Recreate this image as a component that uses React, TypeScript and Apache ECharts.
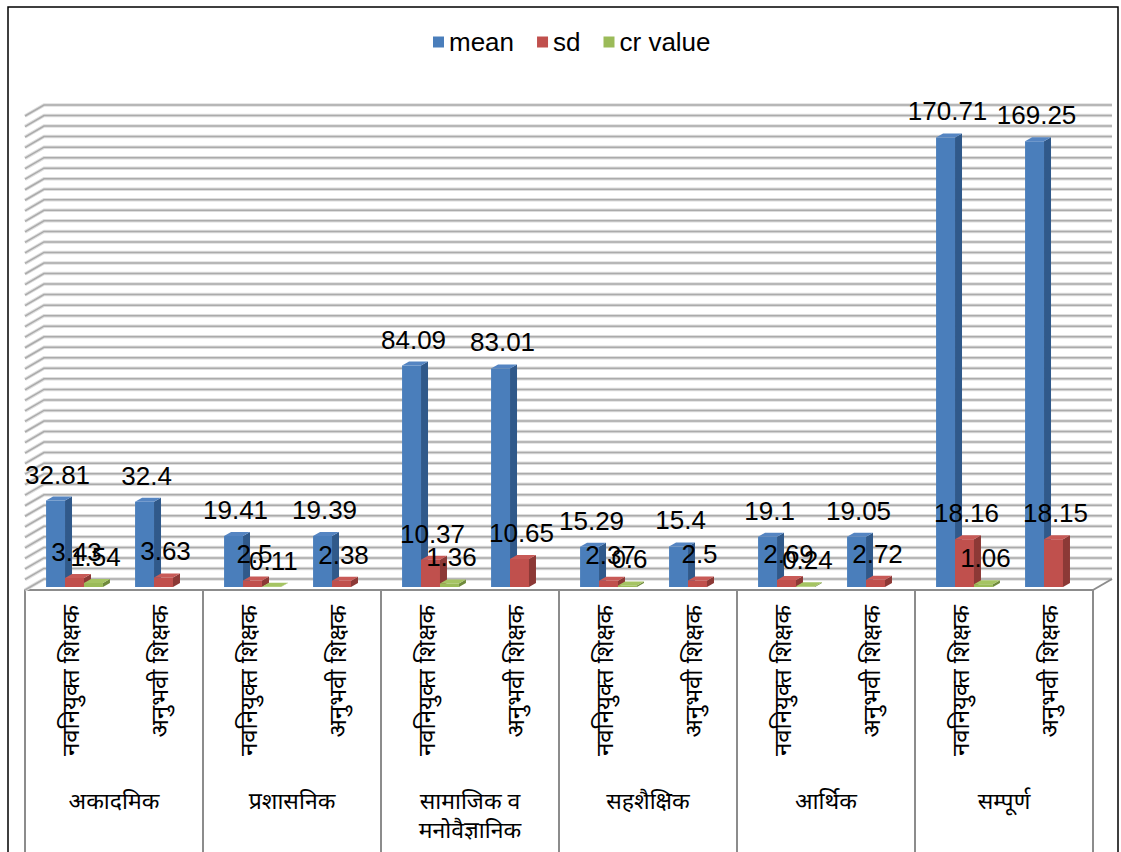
import React, { useEffect, useRef } from "react";
import * as echarts from "echarts";

const groups = ["अकादमिक", "प्रशासनिक", "सामाजिक व\nमनोवैज्ञानिक", "सहशैक्षिक", "आर्थिक", "सम्पूर्ण"];
const teacherTypes = ["नवनियुक्त शिक्षक", "अनुभवी शिक्षक"];
const categories = groups.flatMap(() => teacherTypes);

const meanValues = [32.81, 32.4, 19.41, 19.39, 84.09, 83.01, 15.29, 15.4, 19.1, 19.05, 170.71, 169.25];
const sdValues = [3.43, 3.63, 2.5, 2.38, 10.37, 10.65, 2.37, 2.5, 2.69, 2.72, 18.16, 18.15];
const crValues: (number | null)[] = [1.54, null, 0.11, null, 1.36, null, 0.6, null, 0.24, null, 1.06, null];

const seriesNames = ["mean", "sd", "cr value"];

const Y_MAX = 180;
const Y_INTERVAL = 4;
const gridTicks: number[] = [];
for (let v = 0; v <= Y_MAX; v += Y_INTERVAL) gridTicks.push(v);

const FONT = '"Liberation Sans", Arial, sans-serif';
const DEV_FONT = '"Noto Sans", "DejaVu Sans", sans-serif';

// perspective geometry
const WALL_DX = 19;
const WALL_DY = -11;
const BAR_SHIFT_X = 5;
const BAR_SHIFT_Y = -3;
const BAR_DX = 7;
const BAR_DY = -4;
const BAR_FRAC = 0.213;

const palette = [
  { front: "#4A7EBB", side: "#30598A", top: "#5585C2" },
  { front: "#C0504D", side: "#8C3936", top: "#C85A57" },
  { front: "#9BBB59", side: "#6F8A3C", top: "#A5C463" },
];

function makeBarRender(k: number) {
  return (params: any, api: any) => {
    const i = api.value(0);
    const v = api.value(1);
    if (v == null || isNaN(v)) return null;
    const c = api.coord([i, v]);
    const c0 = api.coord([i, 0]);
    const band = api.size([1, 0])[0];
    const w = band * BAR_FRAC;
    const x = c[0] - 1.5 * w + k * w + BAR_SHIFT_X;
    const top = c[1] + BAR_SHIFT_Y;
    const base = c0[1] + BAR_SHIFT_Y;
    const col = palette[k];
    return {
      type: "group",
      children: [
        {
          type: "rect",
          shape: { x, y: top, width: w, height: base - top },
          style: { fill: col.front },
        },
        {
          type: "polygon",
          shape: {
            points: [
              [x + w, top],
              [x + w + BAR_DX, top + BAR_DY],
              [x + w + BAR_DX, base + BAR_DY],
              [x + w, base],
            ],
          },
          style: { fill: col.side },
        },
        {
          type: "polygon",
          shape: {
            points: [
              [x, top],
              [x + BAR_DX, top + BAR_DY],
              [x + w + BAR_DX, top + BAR_DY],
              [x + w, top],
            ],
          },
          style: { fill: col.top },
        },
        {
          type: "text",
          z2: 100,
          x: x + w / 2 + 2,
          y: top - 26,
          style: {
            text: String(v),
            fontSize: 26,
            fontFamily: FONT,
            fill: "#000",
            align: "center",
            verticalAlign: "middle",
          },
        },
      ],
    };
  };
}

function gridRender(params: any, api: any) {
  const v = api.value(1);
  const cs = params.coordSys;
  const y = api.coord([0, v])[1];
  const L = cs.x;
  const R = cs.x + cs.width;
  const pts = [
    [L, y],
    [L + WALL_DX, y + WALL_DY],
    [R + WALL_DX, y + WALL_DY],
  ];
  const children: any[] = [
    { type: "polyline", shape: { points: pts }, style: { stroke: "#dedede", lineWidth: 3.5, fill: null } },
    { type: "polyline", shape: { points: pts }, style: { stroke: "#ababab", lineWidth: 1.5, fill: null } },
  ];
  if (v === 0) {
    children.push({
      type: "line",
      shape: { x1: R, y1: y, x2: R + WALL_DX, y2: y + WALL_DY },
      style: { stroke: "#8c8c8c", lineWidth: 2 },
    });
  }
  return { type: "group", children };
}

export default function App() {
  const ref = useRef<HTMLDivElement>(null);
  useEffect(() => {
    if (!ref.current) return;
    const chart = echarts.init(ref.current, null, { renderer: "svg" });
    const barData = [meanValues, sdValues, crValues].map((arr) =>
      arr.map((v, i) => [i, v]).filter((d) => d[1] != null)
    );
    chart.setOption({
      animation: false,
      backgroundColor: "#fff",
      graphic: [
        {
          type: "rect",
          silent: true,
          shape: { x: 8, y: 7, width: 1110, height: 900 },
          style: { fill: "none", stroke: "#000", lineWidth: 1.5 },
        },
      ],
      legend: {
        data: seriesNames,
        top: 29,
        left: 433,
        padding: 0,
        icon: "rect",
        itemWidth: 11,
        itemHeight: 11,
        itemGap: 23,
        textStyle: { fontSize: 26, fontFamily: FONT, color: "#000" },
      },
      grid: { left: 25, right: 28, top: 116, bottom: 262, containLabel: false },
      xAxis: [
        {
          type: "category",
          data: categories,
          position: "bottom",
          axisLine: { show: false },
          axisTick: { show: false },
          axisLabel: {
            rotate: 90,
            interval: 0,
            margin: 15,
            fontSize: 24,
            fontFamily: DEV_FONT,
            color: "#000",
          },
        },
        {
          type: "category",
          data: groups,
          position: "bottom",
          offset: 0,
          axisLine: { show: true, lineStyle: { color: "#8c8c8c", width: 2 } },
          axisTick: { show: true, interval: 0, length: 262, lineStyle: { color: "#8c8c8c", width: 2 } },
          axisLabel: {
            interval: 0,
            margin: 195,
            fontSize: 23,
            lineHeight: 29,
            fontFamily: DEV_FONT,
            color: "#000",
          },
        },
      ],
      yAxis: { type: "value", min: 0, max: Y_MAX, interval: Y_INTERVAL, show: false },
      series: [
        {
          type: "custom",
          name: "_grid",
          silent: true,
          z: 1,
          renderItem: gridRender,
          encode: { x: 0, y: 1 },
          data: gridTicks.map((v) => [0, v]),
        },
        ...seriesNames.map((name, k) => ({
          type: "custom",
          name,
          z: 2,
          renderItem: makeBarRender(k),
          encode: { x: 0, y: 1 },
          itemStyle: { color: palette[k].front },
          data: barData[k],
        })),
      ],
    });
    return () => chart.dispose();
  }, []);
  return (
    <div
      ref={ref}
      style={{ position: "fixed", left: 0, top: 0, width: 1121, height: 852 }}
    />
  );
}
